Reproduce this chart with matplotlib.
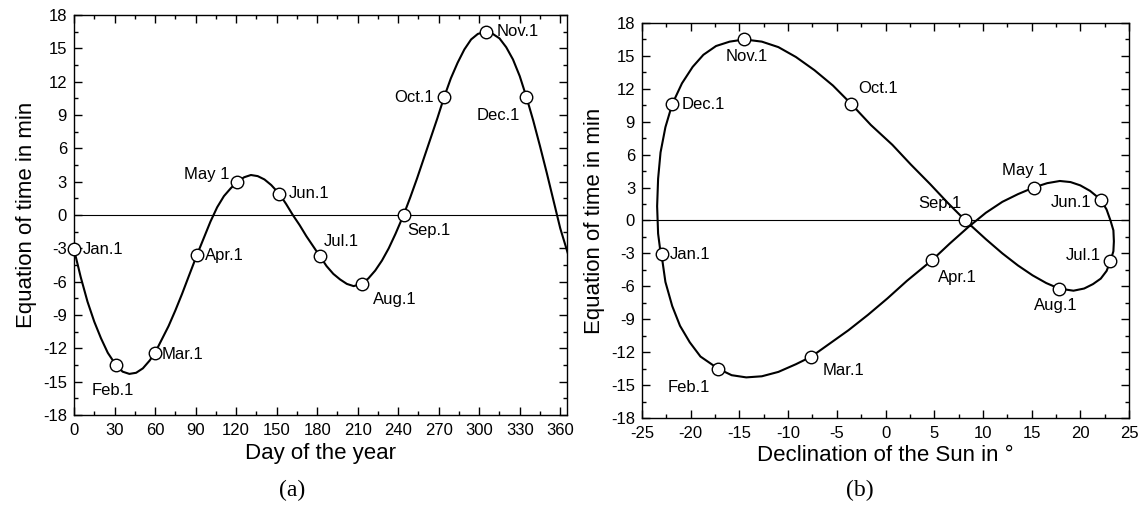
import matplotlib
matplotlib.use("Agg")
import matplotlib.pyplot as plt
from matplotlib.ticker import MultipleLocator

plt.rcParams['font.family'] = ['Liberation Sans', 'DejaVu Sans']
plt.rcParams['axes.unicode_minus'] = False

# Equation of time (min) and solar declination (deg) through the year
day = [0, 5, 10, 15, 20, 25, 31, 36, 41, 46, 51, 56, 60, 65, 70, 75, 80, 85,
       91, 96, 101, 106, 111, 116, 121, 126, 131, 136, 141, 146, 152, 157, 162,
       167, 172, 177, 182, 187, 192, 197, 202, 207, 213, 218, 223, 228, 233,
       238, 244, 249, 254, 259, 264, 269, 274, 279, 284, 289, 294, 299, 305,
       310, 315, 320, 325, 330, 335, 340, 345, 350, 355, 360, 366]
eot = [-3.1, -5.6, -7.8, -9.6, -11.1, -12.4, -13.5, -14.1, -14.3, -14.2, -13.8,
       -13.1, -12.4, -11.2, -10.0, -8.6, -7.1, -5.5, -3.6, -2.1, -0.6, 0.7, 1.7,
       2.4, 3.0, 3.4, 3.6, 3.5, 3.2, 2.7, 1.9, 1.0, 0.0, -0.9, -1.9, -2.8, -3.7,
       -4.6, -5.3, -5.8, -6.2, -6.4, -6.2, -5.7, -5.0, -4.1, -3.0, -1.7, 0.0,
       1.6, 3.3, 5.1, 6.9, 8.7, 10.6, 12.3, 13.7, 14.9, 15.8, 16.3, 16.5, 16.3,
       15.9, 15.1, 14.0, 12.5, 10.6, 8.5, 6.2, 3.8, 1.3, -1.2, -3.6]
decl = [-23.0, -22.6, -21.9, -21.1, -20.1, -19.0, -17.2, -15.8, -14.3, -12.7,
        -11.0, -9.2, -7.6, -5.7, -3.8, -1.8, 0.2, 2.2, 4.8, 6.6, 8.5, 10.3,
        12.0, 13.6, 15.2, 16.6, 17.9, 19.0, 20.0, 21.0, 22.1, 22.7, 23.1, 23.4,
        23.45, 23.4, 23.1, 22.7, 22.1, 21.3, 20.4, 19.3, 17.8, 16.5, 15.1, 13.6,
        12.0, 10.3, 8.2, 6.4, 4.6, 2.6, 0.7, -1.5, -3.5, -5.4, -7.3, -9.2,
        -11.0, -12.7, -14.5, -16.0, -17.4, -18.7, -19.8, -20.9, -21.9, -22.6,
        -23.1, -23.35, -23.45, -23.35, -23.0]

# First day of each month
month_labels = ["Jan.1", "Feb.1", "Mar.1", "Apr.1", "May 1", "Jun.1",
                "Jul.1", "Aug.1", "Sep.1", "Oct.1", "Nov.1", "Dec.1"]
month_day = [0, 31, 60, 91, 121, 152, 182, 213, 244, 274, 305, 335]
month_eot = [-3.1, -13.5, -12.4, -3.6, 3.0, 1.9, -3.7, -6.2, 0.0, 10.6, 16.5, 10.6]
month_decl = [-23.0, -17.2, -7.6, 4.8, 15.2, 22.1, 23.1, 17.8, 8.2, -3.5, -14.5, -21.9]

# label offsets (points) and alignment for each panel
offs_a = [((6, 0), 'left', 'center'), ((-2, -13), 'center', 'top'),
          ((5, -1), 'left', 'center'), ((6, 0), 'left', 'center'),
          ((-6, 5), 'right', 'center'), ((7, 0), 'left', 'center'),
          ((3, 5), 'left', 'bottom'), ((8, -6), 'left', 'top'),
          ((3, -6), 'left', 'top'), ((-7, 0), 'right', 'center'),
          ((8, 0), 'left', 'center'), ((-5, -8), 'right', 'top')]
offs_b = [((6, 0), 'left', 'center'), ((-6, -8), 'right', 'top'),
          ((8, -5), 'left', 'top'), ((4, -7), 'left', 'top'),
          ((-6, 7), 'center', 'bottom'), ((-7, -2), 'right', 'center'),
          ((-7, 4), 'right', 'center'), ((-2, -7), 'center', 'top'),
          ((-3, 7), 'right', 'bottom'), ((5, 6), 'left', 'bottom'),
          ((2, -7), 'center', 'top'), ((7, 0), 'left', 'center')]

fig = plt.figure(figsize=(11.42, 5.14), dpi=100)
ax1 = fig.add_axes([0.0648, 0.1926, 0.4317, 0.7782])
ax2 = fig.add_axes([0.5622, 0.1868, 0.4264, 0.7685])

tick_fs = 12
lab_fs = 16
ann_fs = 12


def style(ax):
    ax.tick_params(which='both', direction='in', top=True, right=True,
                   labelsize=tick_fs, width=1.0)
    ax.tick_params(axis='x', which='both', pad=6)
    ax.tick_params(axis='y', which='both', pad=5)
    ax.tick_params(which='major', length=6)
    ax.tick_params(which='minor', length=3)
    for s in ax.spines.values():
        s.set_linewidth(1.0)
    ax.set_ylim(-18, 18)
    ax.yaxis.set_major_locator(MultipleLocator(3))
    ax.yaxis.set_minor_locator(MultipleLocator(1.5))
    ax.axhline(0, color='black', lw=0.8, zorder=1)
    ax.set_ylabel("Equation of time in min", fontsize=lab_fs, labelpad=4)


# (a) equation of time against day of the year
ax1.plot(day, eot, color='black', lw=1.5, zorder=2)
ax1.plot(month_day, month_eot, 'o', ms=9, mfc='white', mec='black', mew=1.0,
         zorder=3, clip_on=False)
for lab, x, y, (o, ha, va) in zip(month_labels, month_day, month_eot, offs_a):
    ax1.annotate(lab, (x, y), xytext=o, textcoords='offset points',
                 ha=ha, va=va, fontsize=ann_fs)
style(ax1)
ax1.set_xlim(0, 365)
ax1.xaxis.set_major_locator(MultipleLocator(30))
ax1.xaxis.set_minor_locator(MultipleLocator(15))
ax1.set_xlabel("Day of the year", fontsize=lab_fs, labelpad=3)

# (b) analemma: equation of time against solar declination
ax2.plot(decl, eot, color='black', lw=1.5, zorder=2)
ax2.plot(month_decl, month_eot, 'o', ms=9, mfc='white', mec='black', mew=1.0,
         zorder=3)
for lab, x, y, (o, ha, va) in zip(month_labels, month_decl, month_eot, offs_b):
    ax2.annotate(lab, (x, y), xytext=o, textcoords='offset points',
                 ha=ha, va=va, fontsize=ann_fs)
style(ax2)
ax2.set_xlim(-25, 25)
ax2.xaxis.set_major_locator(MultipleLocator(5))
ax2.xaxis.set_minor_locator(MultipleLocator(2.5))
ax2.set_xlabel("Declination of the Sun in °", fontsize=lab_fs, labelpad=3)

fig.text(0.256, 0.045, "(a)", ha='center', va='center', fontsize=17,
         family=['Liberation Serif', 'DejaVu Serif'])
fig.text(0.753, 0.045, "(b)", ha='center', va='center', fontsize=17,
         family=['Liberation Serif', 'DejaVu Serif'])

fig.savefig("out.png", dpi=100, facecolor='white')
